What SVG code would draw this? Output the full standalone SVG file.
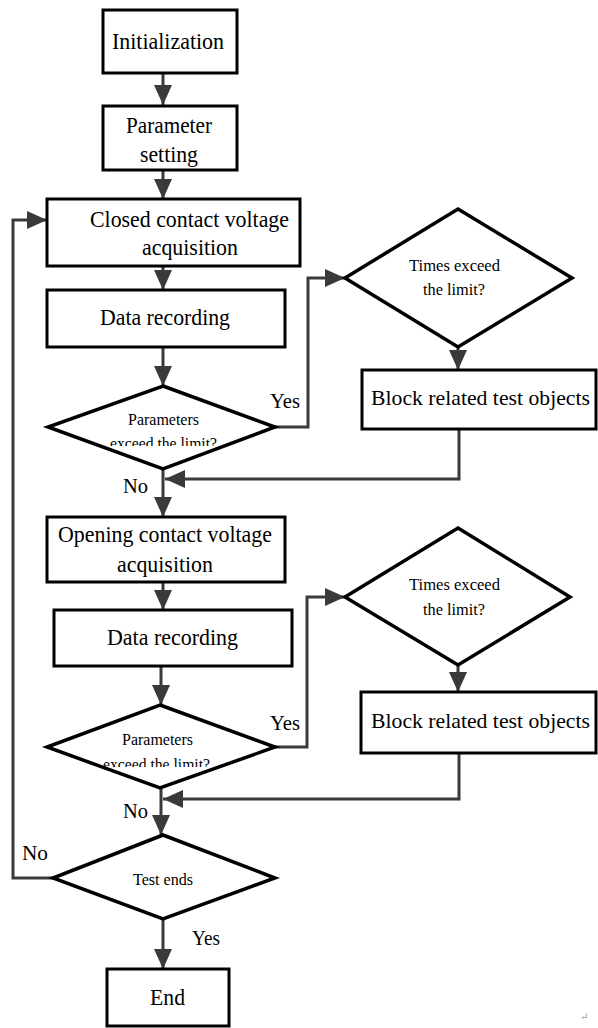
<svg xmlns="http://www.w3.org/2000/svg" width="598" height="1028" viewBox="0 0 598 1028" font-family="'Liberation Serif', 'DejaVu Serif', serif">
  <defs>
    <marker id="arrow" markerUnits="userSpaceOnUse" markerWidth="20" markerHeight="18" refX="20" refY="9" orient="auto">
      <path d="M0,0 L20,9 L0,18 z" fill="#3a3a3a"/>
    </marker>
    <clipPath id="clipD1"><rect x="0" y="400" width="300" height="46"/></clipPath>
    <clipPath id="clipD2"><rect x="0" y="720" width="300" height="47"/></clipPath>
  </defs>
  <style>
    .box { fill: #fff; stroke: #000; stroke-width: 3; }
    .dia { fill: #fff; stroke: #000; stroke-width: 3.5; stroke-linejoin: miter; }
    .conn { fill: none; stroke: #3a3a3a; stroke-width: 3; }
    text { font-family: 'Liberation Serif', 'DejaVu Serif', serif; fill: #000; }
    .big { font-size: 24px; }
    .blk { font-size: 22px; }
    .small { font-size: 17px; }
    .lbl { font-size: 21px; }
  </style>
  <rect width="598" height="1028" fill="#fff"/>

  <!-- connectors -->
  <g id="connectors">
    <path class="conn" d="M163,73 V105" marker-end="url(#arrow)"/>
    <path class="conn" d="M163,170 V199" marker-end="url(#arrow)"/>
    <path class="conn" d="M163,266 V290" marker-end="url(#arrow)"/>
    <path class="conn" d="M163,347 V386" marker-end="url(#arrow)"/>
    <path class="conn" d="M275,427 H308 V278 H345" marker-end="url(#arrow)"/>
    <path class="conn" d="M458,347 V370" marker-end="url(#arrow)"/>
    <path class="conn" d="M459,429 V479 H165" marker-end="url(#arrow)"/>
    <path class="conn" d="M163,469 V517" marker-end="url(#arrow)"/>
    <path class="conn" d="M163,582 V610" marker-end="url(#arrow)"/>
    <path class="conn" d="M161,666 V705" marker-end="url(#arrow)"/>
    <path class="conn" d="M275,747 H307 V597 H345" marker-end="url(#arrow)"/>
    <path class="conn" d="M458,665 V692" marker-end="url(#arrow)"/>
    <path class="conn" d="M459,753 V799 H163" marker-end="url(#arrow)"/>
    <path class="conn" d="M161,788 V835" marker-end="url(#arrow)"/>
    <path class="conn" d="M53,878 H13 V220 H47" marker-end="url(#arrow)"/>
    <path class="conn" d="M163,919 V969" marker-end="url(#arrow)"/>
  </g>

  <!-- connector labels -->
  <g id="labels">
    <text class="lbl" x="270" y="408" textLength="30" lengthAdjust="spacingAndGlyphs">Yes</text>
    <text class="lbl" x="123" y="493" textLength="25" lengthAdjust="spacingAndGlyphs">No</text>
    <text class="lbl" x="270" y="730" textLength="30" lengthAdjust="spacingAndGlyphs">Yes</text>
    <text class="lbl" x="123" y="818" textLength="25" lengthAdjust="spacingAndGlyphs">No</text>
    <text class="lbl" x="22" y="860" textLength="26" lengthAdjust="spacingAndGlyphs">No</text>
    <text class="lbl" x="192" y="945" textLength="28" lengthAdjust="spacingAndGlyphs">Yes</text>
  </g>

  <g id="init">
    <rect class="box" x="103" y="10" width="134" height="63"/>
    <text class="big" x="112" y="49" textLength="112" lengthAdjust="spacingAndGlyphs">Initialization</text>
  </g>

  <g id="param">
    <rect class="box" x="103" y="106" width="134" height="64"/>
    <text class="big" x="126" y="133" textLength="86" lengthAdjust="spacingAndGlyphs">Parameter</text>
    <text class="big" x="140" y="162" textLength="58" lengthAdjust="spacingAndGlyphs">setting</text>
  </g>

  <g id="closed-acq">
    <rect class="box" x="47" y="199" width="253" height="67"/>
    <text class="big" x="90" y="227" textLength="199" lengthAdjust="spacingAndGlyphs">Closed contact voltage</text>
    <text class="big" x="142" y="255" textLength="96" lengthAdjust="spacingAndGlyphs">acquisition</text>
  </g>

  <g id="record1">
    <rect class="box" x="47" y="290" width="238" height="57"/>
    <text class="big" x="100" y="325" textLength="130" lengthAdjust="spacingAndGlyphs">Data recording</text>
  </g>

  <g id="check1">
    <polygon class="dia" points="163,386 275,427 163,469 48,427"/>
    <text class="small" x="128" y="425" textLength="71" lengthAdjust="spacingAndGlyphs">Parameters</text>
    <text class="small" x="110" y="449" textLength="107" lengthAdjust="spacingAndGlyphs" clip-path="url(#clipD1)">exceed the limit?</text>
  </g>

  <g id="times1">
    <polygon class="dia" points="458,209 572,278 458,347 345,278"/>
    <text class="small" x="409" y="271" textLength="91" lengthAdjust="spacingAndGlyphs">Times exceed</text>
    <text class="small" x="423" y="295" textLength="62" lengthAdjust="spacingAndGlyphs">the limit?</text>
  </g>

  <g id="block1">
    <rect class="box" x="362" y="370" width="234" height="59"/>
    <text class="blk" x="371" y="405" textLength="219" lengthAdjust="spacingAndGlyphs">Block related test objects</text>
  </g>

  <g id="opening-acq">
    <rect class="box" x="47" y="517" width="238" height="65"/>
    <text class="big" x="58" y="542" textLength="214" lengthAdjust="spacingAndGlyphs">Opening contact voltage</text>
    <text class="big" x="117" y="572" textLength="96" lengthAdjust="spacingAndGlyphs">acquisition</text>
  </g>

  <g id="record2">
    <rect class="box" x="54" y="610" width="238" height="56"/>
    <text class="big" x="107" y="645" textLength="131" lengthAdjust="spacingAndGlyphs">Data recording</text>
  </g>

  <g id="check2">
    <polygon class="dia" points="160,705 275,747 160,788 47,747"/>
    <text class="small" x="122" y="745" textLength="71" lengthAdjust="spacingAndGlyphs">Parameters</text>
    <text class="small" x="103" y="770" textLength="107" lengthAdjust="spacingAndGlyphs" clip-path="url(#clipD2)">exceed the limit?</text>
  </g>

  <g id="times2">
    <polygon class="dia" points="458,528 570,597 458,665 345,597"/>
    <text class="small" x="409" y="590" textLength="91" lengthAdjust="spacingAndGlyphs">Times exceed</text>
    <text class="small" x="423" y="615" textLength="62" lengthAdjust="spacingAndGlyphs">the limit?</text>
  </g>

  <g id="block2">
    <rect class="box" x="361" y="692" width="235" height="61"/>
    <text class="blk" x="371" y="728" textLength="219" lengthAdjust="spacingAndGlyphs">Block related test objects</text>
  </g>

  <g id="test-ends">
    <polygon class="dia" points="163,835 275,878 163,919 53,878"/>
    <text class="small" x="133" y="885" textLength="60" lengthAdjust="spacingAndGlyphs" style="font-size:16px">Test ends</text>
  </g>

  <g id="end">
    <rect class="box" x="107" y="969" width="122" height="57"/>
    <text class="big" x="150" y="1005" textLength="35" lengthAdjust="spacingAndGlyphs">End</text>
  </g>

  <text x="580" y="1020" style="font-size:10px; fill:#999">↵</text>
</svg>
